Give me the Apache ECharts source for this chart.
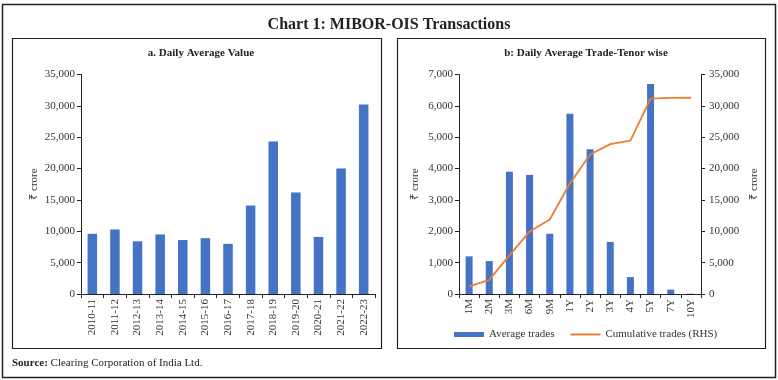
<!DOCTYPE html>
<html>
<head>
<meta charset="utf-8">
<script src="https://cdn.jsdelivr.net/npm/echarts@6/dist/echarts.min.js"></script>
<style>
html,body{margin:0;padding:0;background:#fff;}
#c{width:778px;height:380px;}
</style>
</head>
<body>
<div id="c"></div>
<script>
// Panel a: daily average value (₹ crore)
const yearsA = ['2010-11','2011-12','2012-13','2013-14','2014-15','2015-16','2016-17','2017-18','2018-19','2019-20','2020-21','2021-22','2022-23'];
const valueA = [9600, 10300, 8400, 9500, 8600, 8900, 8000, 14100, 24300, 16200, 9100, 20000, 30200];

// Panel b: tenor-wise trades
const tenorsB = ['1M','2M','3M','6M','9M','1Y','2Y','3Y','4Y','5Y','7Y','10Y'];
const avgTrades = [1200, 1050, 3900, 3800, 1920, 5750, 4620, 1660, 540, 6700, 140, 10];
const cumTrades = [1200, 2250, 6150, 9950, 11870, 17620, 22240, 23900, 24440, 31140, 31280, 31290];

const FONT = 'Liberation Serif';
const chart = echarts.init(document.getElementById('c'), null, {renderer:'canvas'});
const fmt = v => v.toLocaleString('en-US');
const axisLbl = {fontFamily: FONT, fontSize: 11, color: '#333'};
const axLine = {show: true, lineStyle: {color: '#222', width: 1}};

chart.setOption({
  animation: false,
  backgroundColor: '#fff',
  title: [
    {text: 'Chart 1: MIBOR-OIS Transactions', left: 'center', top: 12,
     textStyle: {fontFamily: FONT, fontSize: 16, fontWeight: 'bold', color: '#222'}},
    {text: 'a. Daily Average Value', left: 196, top: 43, textAlign: 'center',
     textStyle: {fontFamily: FONT, fontSize: 11, fontWeight: 'bold', color: '#222'}},
    {text: 'b: Daily Average Trade-Tenor wise', left: 581, top: 43, textAlign: 'center',
     textStyle: {fontFamily: FONT, fontSize: 11, fontWeight: 'bold', color: '#222'}}
  ],
  graphic: [
    {type: 'rect', shape: {x: 2.5, y: 4.5, width: 773, height: 373}, style: {fill: 'none', stroke: '#222', lineWidth: 1.5}, silent: true},
    {type: 'rect', shape: {x: 12.5, y: 38.5, width: 369, height: 310}, style: {fill: 'none', stroke: '#222', lineWidth: 1.2}, silent: true},
    {type: 'rect', shape: {x: 397.5, y: 38.5, width: 368, height: 310}, style: {fill: 'none', stroke: '#222', lineWidth: 1.2}, silent: true},
    {type: 'text', x: 34, y: 184, rotation: Math.PI/2,
     style: {text: '₹ crore', font: '11px "' + FONT + '"', fill: '#333', textAlign: 'center', textVerticalAlign: 'middle'}},
    {type: 'text', x: 415, y: 184, rotation: Math.PI/2,
     style: {text: '₹ crore', font: '11px "' + FONT + '"', fill: '#333', textAlign: 'center', textVerticalAlign: 'middle'}},
    {type: 'text', x: 754, y: 184, rotation: Math.PI/2,
     style: {text: '₹ crore', font: '11px "' + FONT + '"', fill: '#333', textAlign: 'center', textVerticalAlign: 'middle'}},
    {type: 'text', x: 12, y: 363,
     style: {text: '{b|Source:} Clearing Corporation of India Ltd.', textVerticalAlign: 'middle',
       rich: {b: {fontFamily: FONT, fontSize: 11, fontWeight: 'bold', fill: '#222'}},
       font: '11px "' + FONT + '"', fill: '#222'}}
  ],
  legend: {
    left: 449, top: 324, itemWidth: 30, itemHeight: 5, itemGap: 16,
    textStyle: {fontFamily: FONT, fontSize: 11, color: '#333'},
    data: [
      {name: 'Average trades', icon: 'rect'},
      {name: 'Cumulative trades (RHS)', icon: 'path://M0 0 H30 V2 H0 Z'}
    ]
  },
  grid: [
    {left: 81, top: 74.5, width: 294, height: 219.5},
    {left: 459, top: 74.5, width: 242, height: 219.5}
  ],
  xAxis: [
    {type: 'category', gridIndex: 0, data: yearsA, axisLine: axLine,
     axisTick: {show: true, length: 4, lineStyle: {color: '#222'}},
     axisLabel: Object.assign({rotate: 90, margin: 5, interval: 0}, axisLbl)},
    {type: 'category', gridIndex: 1, data: tenorsB, axisLine: axLine,
     axisTick: {show: true, length: 4, lineStyle: {color: '#222'}},
     axisLabel: Object.assign({rotate: 90, margin: 5, interval: 0}, axisLbl)}
  ],
  yAxis: [
    {type: 'value', gridIndex: 0, min: 0, max: 35000, interval: 5000, axisLine: axLine,
     axisTick: {show: true, length: 4, lineStyle: {color: '#222'}}, splitLine: {show: false},
     axisLabel: Object.assign({formatter: fmt, margin: 6}, axisLbl)},
    {type: 'value', gridIndex: 1, min: 0, max: 7000, interval: 1000, axisLine: axLine,
     axisTick: {show: true, length: 4, lineStyle: {color: '#222'}}, splitLine: {show: false},
     axisLabel: Object.assign({formatter: fmt, margin: 6}, axisLbl)},
    {type: 'value', gridIndex: 1, position: 'right', min: 0, max: 35000, interval: 5000, axisLine: axLine,
     axisTick: {show: true, length: 4, lineStyle: {color: '#222'}}, splitLine: {show: false},
     axisLabel: Object.assign({formatter: fmt, margin: 8}, axisLbl)}
  ],
  series: [
    {type: 'bar', xAxisIndex: 0, yAxisIndex: 0, data: valueA, barWidth: 9.5,
     itemStyle: {color: '#4472C4'}},
    {name: 'Average trades', type: 'bar', xAxisIndex: 1, yAxisIndex: 1, data: avgTrades, barWidth: 7,
     itemStyle: {color: '#4472C4'}},
    {name: 'Cumulative trades (RHS)', type: 'line', xAxisIndex: 1, yAxisIndex: 2, data: cumTrades,
     symbol: 'none', lineStyle: {color: '#ED7D31', width: 1.8}, itemStyle: {color: '#ED7D31'}}
  ]
});
</script>
</body>
</html>
